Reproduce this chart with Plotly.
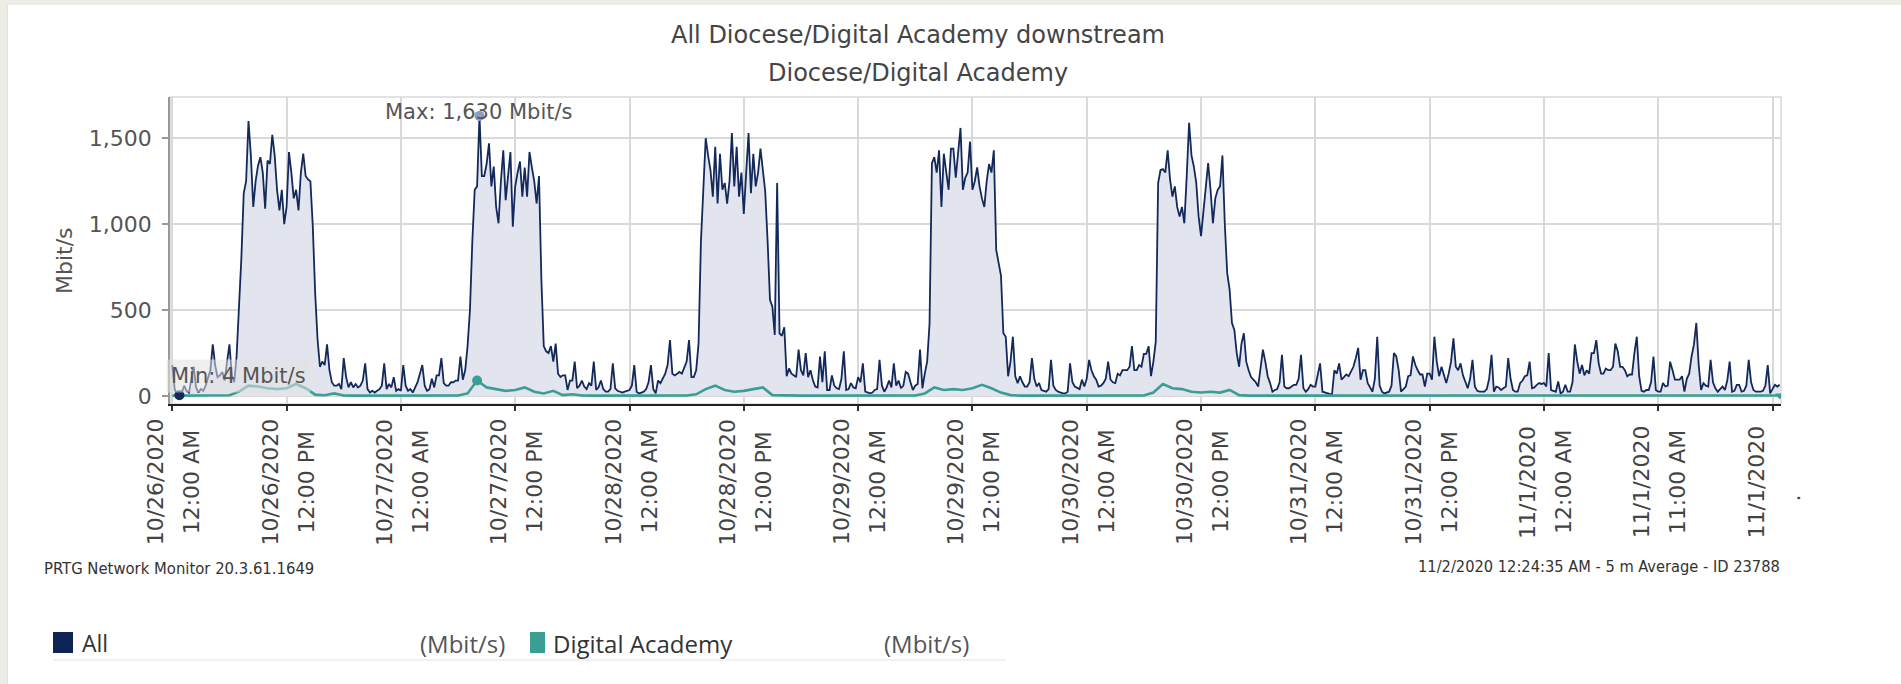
import numpy as np
import plotly.graph_objects as go

# ---------------- data (Mbit/s) ----------------
# "All" series, 15-minute samples, hours since 10/26/2020 12:00 AM
all_d1 = [180, 40, 10, 4, 20, 60, 30, 20, 100, 170, 50, 20, 40, 30, 60, 110,
          150, 300, 180, 110, 120, 140, 90, 200, 300, 120, 80, 230, 480, 800, 1180, 1250,
          1600, 1400, 1100, 1250, 1340, 1390, 1300, 1090, 1370, 1350, 1520, 1400,
          1200, 1080, 1200, 1000, 1100, 1420, 1300, 1150, 1200, 1080, 1300, 1410,
          1280, 1260, 1250, 990, 600, 330, 170, 200, 180, 300, 150, 80, 60, 60, 70, 40,
          220, 110, 50, 80, 50, 70, 50, 60, 90, 190, 40, 20, 30, 20, 30, 40,
          60, 190, 40, 70, 50, 110, 30, 40]
all_d2 = [30, 180, 60, 30, 40, 20, 50, 80, 130, 180, 60, 30, 40, 100, 50, 120,
          120, 220, 75, 60, 60, 80, 80, 90, 90, 230, 95, 150, 290, 500, 900, 1200,
          1220, 1630, 1280, 1280, 1350, 1470, 1220, 1335, 1100, 1005, 1250, 1430,
          1140, 1300, 1420, 985, 1220, 1300, 1365, 1160, 1330, 1160, 1420, 1330,
          1250, 1120, 1280, 675, 290, 260, 250, 290, 200, 305, 130, 110, 120, 120, 35, 90,
          90, 200, 45, 60, 90, 55, 40, 75, 60, 200, 35, 50, 90, 40, 25, 25,
          40, 190, 45, 30, 25, 20, 25, 30]
all_d3 = [35, 60, 180, 25, 15, 20, 25, 40, 80, 180, 40, 15, 90, 75, 100, 130,
          180, 325, 130, 120, 130, 140, 130, 160, 200, 325, 110, 110, 150, 305, 900, 1200,
          1500, 1400, 1315, 1160, 1450, 1120, 1410, 1200, 1240, 1120, 1250, 1530,
          1220, 1450, 1160, 1300, 1060, 1300, 1530, 1180, 1410, 1220, 1300, 1440,
          1300, 1190, 900, 560, 520, 355, 1240, 365, 350, 400, 115, 160, 130, 120, 110, 270,
          150, 120, 250, 110, 150, 93, 55, 50, 230, 80, 260, 35, 35, 120, 60, 45,
          40, 100, 260, 35, 40, 75, 50, 45]
all_d4 = [110, 80, 190, 25, 20, 15, 20, 35, 40, 210, 60, 25, 50, 90, 50, 190,
          60, 90, 45, 60, 140, 130, 80, 35, 60, 70, 270, 45, 130, 200, 420, 1355,
          1390, 1300, 1430, 1100, 1410, 1300, 1200, 1440, 1440, 1270, 1400, 1560,
          1200, 1270, 1300, 1480, 1200, 1250, 1330, 1220, 1150, 1100, 1250, 1350,
          1300, 1430, 850, 770, 700, 365, 345, 115, 200, 345, 115, 75, 115, 80, 55, 55,
          80, 220, 100, 55, 75, 35, 30, 25, 40, 210, 60, 35, 25, 20, 15, 15,
          25, 190, 80, 55, 45, 40, 95, 55]
all_d5 = [100, 210, 150, 115, 95, 55, 60, 75, 100, 200, 95, 80, 75, 130, 120, 150,
          150, 150, 170, 290, 150, 150, 180, 170, 245, 245, 290, 115, 200, 315, 1240, 1315,
          1320, 1300, 1430, 1260, 1160, 1220, 1100, 1045, 1100, 1005, 1280, 1590,
          1400, 1335, 1240, 1045, 930, 1060, 1200, 1355, 1200, 1005, 1150, 1200,
          1220, 1400, 1000, 715, 620, 425, 385, 250, 170, 305, 365, 200, 150, 110, 95, 80,
          55, 150, 270, 200, 115, 75, 25, 35, 40, 80, 240, 55, 45, 45, 55, 65,
          65, 100, 240, 45, 25, 40, 65, 55]
all_d6 = [55, 120, 190, 25, 20, 15, 10, 8, 150, 130, 190, 95, 110, 125, 115, 140,
          170, 220, 280, 95, 150, 150, 75, 50, 25, 100, 345, 60, 25, 15, 20, 25,
          60, 250, 230, 150, 25, 40, 55, 115, 120, 230, 180, 150, 125, 125, 55, 130,
          130, 95, 345, 200, 115, 170, 120, 75, 130, 200, 335, 170, 150, 190, 120, 85,
          45, 100, 210, 55, 30, 25, 25, 25, 40, 100, 240, 25, 55, 50, 35, 45,
          55, 220, 100, 35, 25, 25, 75, 90, 115, 120, 200, 45, 50, 65, 75, 70]
all_d7 = [75, 55, 250, 35, 30, 25, 85, 15, 25, 65, 25, 25, 80, 300, 200, 130,
          180, 120, 150, 130, 250, 250, 325, 190, 130, 130, 160, 150, 150, 170, 305, 260,
          170, 170, 150, 115, 125, 125, 250, 345, 115, 30, 25, 35, 35, 80, 230, 35,
          25, 25, 75, 55, 60, 200, 150, 95, 95, 95, 115, 25, 100, 130, 230, 300,
          425, 180, 35, 75, 60, 55, 210, 80, 45, 25, 40, 55, 35, 90, 200, 25,
          30, 65, 65, 25, 30, 60, 210, 80, 35, 25, 25, 25, 30, 60, 180, 15,
          40, 65, 55, 65]

# "Digital Academy" series, hourly samples (plus the final sample)
da_d1 = [2, 2, 2, 2, 2, 3, 4, 25, 60, 55, 45, 40, 45, 70, 45, 8, 4, 15, 3, 2, 2, 2, 2, 2]
da_d2 = [2, 2, 2, 2, 2, 2, 3, 15, 90, 50, 40, 30, 35, 50, 25, 15, 30, 5, 10, 3, 2, 2, 2, 2]
da_d3 = [2, 2, 2, 2, 2, 3, 3, 10, 40, 60, 35, 25, 30, 40, 50, 5, 3, 2, 2, 2, 2, 2, 2, 2]
da_d4 = [2, 2, 2, 2, 2, 2, 3, 15, 50, 35, 40, 35, 45, 65, 45, 20, 5, 2, 2, 2, 2, 2, 2, 2]
da_d5 = [2, 2, 2, 2, 2, 2, 3, 20, 70, 45, 40, 25, 20, 25, 20, 35, 5, 2, 2, 2, 2, 2, 2, 2]
da_d6 = [2, 2, 2, 2, 2, 2, 2, 2, 2, 2, 2, 2, 2, 2, 2, 2, 2, 2, 2, 2, 2, 2, 2, 2]
da_d7 = [2, 2, 2, 2, 2, 2, 2, 2, 2, 2, 2, 2, 2, 2, 2, 2, 2, 2, 2, 2, 2, 2, 2, 2, 2, 3]

tick_hours = [0, 12, 24, 36, 48, 60, 72, 84, 96, 108, 120, 132, 144, 156, 168]
tick_dates = ["10/26/2020", "10/26/2020", "10/27/2020", "10/27/2020", "10/28/2020",
              "10/28/2020", "10/29/2020", "10/29/2020", "10/30/2020", "10/30/2020",
              "10/31/2020", "10/31/2020", "11/1/2020", "11/1/2020", "11/1/2020"]
tick_times = ["12:00 AM", "12:00 PM", "12:00 AM", "12:00 PM", "12:00 AM", "12:00 PM",
              "12:00 AM", "12:00 PM", "12:00 AM", "12:00 PM", "12:00 AM", "12:00 PM",
              "12:00 AM", "11:00 AM", "."]
y_ticks = [0, 500, 1000, 1500]

all_vals = all_d1 + all_d2 + all_d3 + all_d4 + all_d5 + all_d6 + all_d7
all_hours = [i * 0.25 for i in range(len(all_vals))]
da_vals = da_d1 + da_d2 + da_d3 + da_d4 + da_d5 + da_d6 + da_d7
da_hours = list(range(len(da_vals) - 1)) + [all_hours[-1]]

# ---------------- styles ----------------
NAVY = "#13295b"
NAVY_SQ = "#0e2456"
FILL = "#e2e5ed"
TEAL = "#3a9e94"
GRID = "#d9d9d9"
DV = "DejaVu Sans"
COND = "DejaVu Sans Condensed, DejaVu Sans"
OS = "Open Sans"

W, H = 1901, 684
L, R, T, B = 170, 120, 97, 280
PW, PH = W - L - R, H - T - B


def px(x):
    return (x - L) / PW


def py(y):
    return (H - B - y) / PH


fig = go.Figure()
fig.add_trace(go.Scatter(x=all_hours, y=all_vals, mode="lines", name="All",
                         line=dict(color=NAVY, width=1.8), fill="tozeroy",
                         fillcolor=FILL, hoverinfo="skip"))
fig.add_trace(go.Scatter(x=da_hours, y=da_vals, mode="lines", name="Digital Academy",
                         line=dict(color=TEAL, width=2.6), hoverinfo="skip"))

a = np.array(all_vals)
imax, imin = int(a.argmax()), int(a.argmin())
d = np.array(da_vals)
jmax = int(d.argmax())

fig.add_trace(go.Scatter(x=[all_hours[imax]], y=[all_vals[imax]], mode="markers",
                         marker=dict(color="#8e9cc0", size=10), hoverinfo="skip"))
fig.add_trace(go.Scatter(x=[all_hours[imin]], y=[all_vals[imin]], mode="markers",
                         marker=dict(color=NAVY, size=10), hoverinfo="skip"))
fig.add_trace(go.Scatter(x=[da_hours[jmax]], y=[da_vals[jmax]], mode="markers",
                         marker=dict(color=TEAL, size=10), hoverinfo="skip"))
fig.add_trace(go.Scatter(x=[da_hours[-1]], y=[da_vals[-1]], mode="markers",
                         marker=dict(color=TEAL, size=8, symbol="triangle-down"),
                         hoverinfo="skip"))

ann = []
# min / max labels
ann.append(dict(x=all_hours[imax], y=all_vals[imax], xref="x", yref="y",
                text=f"Max: {all_vals[imax]:,} Mbit/s", showarrow=False,
                xanchor="center", yanchor="middle", yshift=4,
                font=dict(family=DV, size=21, color="#555")))
ann.append(dict(x=all_hours[imin], y=all_vals[imin], xref="x", yref="y",
                text=f"Min: {all_vals[imin]} Mbit/s", showarrow=False,
                xanchor="left", yanchor="middle", xshift=-13, yshift=19,
                bgcolor="rgba(225,225,225,0.55)", borderpad=4,
                font=dict(family=DV, size=21, color="#555")))

# x tick labels (two rotated lines per tick, centred on each other)
for hv, dt, tm in zip(tick_hours, tick_dates, tick_times):
    ann.append(dict(x=hv, y=py(482), xref="x", yref="paper", text=dt,
                    textangle=-90, showarrow=False, xanchor="center", yanchor="middle",
                    xshift=-17, font=dict(family=DV, size=22, color="#444")))
    ann.append(dict(x=hv, y=py(482), xref="x", yref="paper", text=tm,
                    textangle=-90, showarrow=False, xanchor="center", yanchor="middle",
                    xshift=19, yshift=(-16 if tm == "." else 0),
                    font=dict(family=DV, size=22, color="#444")))

# titles
ann.append(dict(x=px(918), y=py(35), xref="paper", yref="paper",
                text="All Diocese/Digital Academy downstream", showarrow=False,
                xanchor="center", yanchor="middle", font=dict(family=DV, size=24, color="#444")))
ann.append(dict(x=px(918), y=py(73), xref="paper", yref="paper",
                text="Diocese/Digital Academy", showarrow=False,
                xanchor="center", yanchor="middle", font=dict(family=DV, size=24, color="#444")))
ann.append(dict(x=px(64), y=py(261), xref="paper", yref="paper", text="Mbit/s",
                textangle=-90, showarrow=False, xanchor="center", yanchor="middle",
                font=dict(family=DV, size=22, color="#555")))

# footer
ann.append(dict(x=px(42), y=py(568), xref="paper", yref="paper",
                text="PRTG Network Monitor 20.3.61.1649", showarrow=False,
                xanchor="left", yanchor="middle", font=dict(family=COND, size=16.5, color="#333")))
ann.append(dict(x=px(1782), y=py(566), xref="paper", yref="paper",
                text="11/2/2020 12:24:35 AM - 5 m Average - ID 23788", showarrow=False,
                xanchor="right", yanchor="middle", font=dict(family=COND, size=16.3, color="#333")))

# legend texts
ann.append(dict(x=px(80), y=py(643), xref="paper", yref="paper", text="All",
                showarrow=False, xanchor="left", yanchor="middle",
                font=dict(family=OS, size=23, color="#333")))
ann.append(dict(x=px(507), y=py(643), xref="paper", yref="paper", text="(Mbit/s)",
                showarrow=False, xanchor="right", yanchor="middle",
                font=dict(family=OS, size=24, color="#555")))
ann.append(dict(x=px(551), y=py(643), xref="paper", yref="paper", text="Digital Academy",
                showarrow=False, xanchor="left", yanchor="middle",
                font=dict(family=OS, size=24, color="#333")))
ann.append(dict(x=px(971), y=py(643), xref="paper", yref="paper", text="(Mbit/s)",
                showarrow=False, xanchor="right", yanchor="middle",
                font=dict(family=OS, size=24, color="#555")))

shapes = [
    # beige frame strips
    dict(type="rect", xref="paper", yref="paper", x0=px(0), x1=px(W), y0=py(5), y1=py(0),
         fillcolor="#eeece6", line=dict(width=0), layer="above"),
    dict(type="rect", xref="paper", yref="paper", x0=px(0), x1=px(7), y0=py(H), y1=py(0),
         fillcolor="#eeece6", line=dict(width=0), layer="above"),
    dict(type="line", xref="paper", yref="paper", x0=px(7.5), x1=px(7.5), y0=py(H), y1=py(5),
         line=dict(color="#e2e0da", width=1), layer="above"),
    # plot border (top / right)
    dict(type="rect", xref="paper", yref="paper", x0=0, x1=1, y0=0, y1=1,
         line=dict(color=GRID, width=1.5), layer="below"),
    # legend squares and rule
    dict(type="rect", xref="paper", yref="paper", x0=px(53), x1=px(73), y0=py(653), y1=py(632),
         fillcolor=NAVY_SQ, line=dict(width=0)),
    dict(type="rect", xref="paper", yref="paper", x0=px(530), x1=px(545), y0=py(653), y1=py(632),
         fillcolor=TEAL, line=dict(width=0)),
    dict(type="line", xref="paper", yref="paper", x0=px(53), x1=px(1006), y0=py(660), y1=py(660),
         line=dict(color="#eeeeee", width=1.5)),
]

fig.update_layout(
    width=W, height=H, margin=dict(l=L, r=R, t=T, b=B),
    paper_bgcolor="white", plot_bgcolor="white", showlegend=False,
    annotations=ann, shapes=shapes,
    xaxis=dict(range=[-0.24, 168.89], tickvals=tick_hours, showticklabels=False,
               ticks="outside", ticklen=5, tickcolor="#333", tickwidth=1.5,
               showgrid=True, gridcolor=GRID, gridwidth=1.5,
               showline=True, linecolor="#222", linewidth=2, zeroline=False),
    yaxis=dict(range=[-46.6, 1740], tickvals=y_ticks, tickformat=",d",
               ticks="outside", ticklen=6, tickcolor="#999", tickwidth=1.5,
               ticklabelstandoff=6,
               showgrid=True, gridcolor=GRID, gridwidth=1.5,
               showline=True, linecolor="#999", linewidth=1.5, zeroline=False,
               tickfont=dict(family=DV, size=22, color="#555")),
)

fig.write_html("out.html", config={"displayModeBar": False},
               post_script="document.body.style.margin='0px';")
